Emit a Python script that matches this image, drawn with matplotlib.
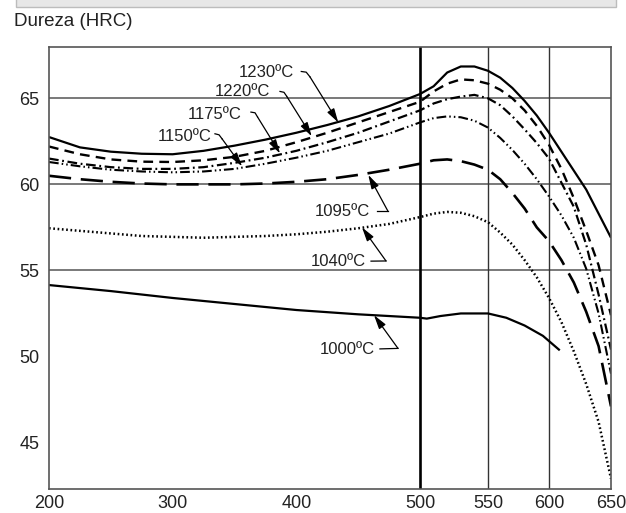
import numpy as np
import matplotlib
matplotlib.use("Agg")
import matplotlib.pyplot as plt
from matplotlib.patches import Rectangle

plt.rcParams['font.family'] = ['Liberation Sans', 'DejaVu Sans']
plt.rcParams['lines.scale_dashes'] = False

############### DATA ###############

# tempering temperature (ºC) shared by the upper curves
TEMP = [200, 225, 250, 275, 300, 325, 350, 375, 400, 425, 450, 475, 500,
        510, 520, 530, 540, 550, 560, 570, 580, 590, 600, 610, 620, 630, 640, 650]

HRC_1230 = [62.75, 62.15, 61.9, 61.78, 61.75, 61.95, 62.25, 62.6, 63.0, 63.45, 63.95, 64.55, 65.25,
            65.7, 66.5, 66.85, 66.85, 66.6, 66.2, 65.6, 64.85, 64.0, 63.0, 61.9, 60.8, 59.7, 58.3, 56.9]
HRC_1220 = [62.2, 61.75, 61.45, 61.32, 61.3, 61.4, 61.6, 61.95, 62.45, 63.0, 63.6, 64.2, 64.8,
            65.4, 65.85, 66.1, 66.05, 65.85, 65.5, 65.0, 64.3, 63.4, 62.3, 60.9, 59.2, 57.3, 55.3, 52.4]
HRC_1175 = [61.5, 61.2, 61.0, 60.9, 60.9, 61.0, 61.25, 61.55, 61.95, 62.45, 63.0, 63.65, 64.3,
            64.7, 64.95, 65.1, 65.2, 65.0, 64.6, 63.95, 63.2, 62.4, 61.5, 60.1, 58.7, 56.5, 53.6, 50.4]
HRC_1150 = [61.3, 61.05, 60.85, 60.75, 60.7, 60.75, 60.9, 61.2, 61.55, 61.95, 62.45, 62.95, 63.6,
            63.85, 63.95, 63.9, 63.7, 63.3, 62.7, 62.0, 61.2, 60.3, 59.3, 58.2, 56.9, 55.1, 52.5, 49.0]
HRC_1095 = [60.5, 60.3, 60.15, 60.05, 60.0, 60.0, 60.0, 60.05, 60.15, 60.3, 60.55, 60.85, 61.2,
            61.4, 61.45, 61.35, 61.15, 60.85, 60.3, 59.5, 58.6, 57.5, 56.7, 55.6, 54.3, 52.6, 50.6, 47.1]
HRC_1040 = [57.45, 57.3, 57.15, 57.0, 56.95, 56.9, 56.95, 57.0, 57.1, 57.25, 57.45, 57.7, 58.1,
            58.3, 58.4, 58.35, 58.15, 57.8, 57.2, 56.5, 55.6, 54.6, 53.4, 52.0, 50.3, 48.4, 46.2, 42.9]

TEMP_1000 = [200, 250, 300, 350, 400, 450, 500, 505, 515, 530, 550, 565, 580, 595, 608]
HRC_1000 = [54.15, 53.8, 53.4, 53.05, 52.7, 52.45, 52.25, 52.2, 52.35, 52.5, 52.5, 52.25, 51.8, 51.2, 50.4]

X_TICKS = [200, 300, 400, 500, 550, 600, 650]
Y_TICKS = [45, 50, 55, 60, 65]
H_GRID = [55, 60, 65]
V_GRID = [550, 600]

############### AXIS SCALE ###############
# the x axis of the original is not uniform: stretch between breaks
X_BREAKS = [200, 500, 550, 600, 650]
X_SPAN = [0, 371, 439, 500, 562]

def fwd(x):
    return np.interp(x, X_BREAKS, X_SPAN)

def inv(x):
    return np.interp(x, X_SPAN, X_BREAKS)

############### PLOT ###############

fig = plt.figure(figsize=(6.26, 5.13), dpi=100)
fig.add_artist(Rectangle((16 / 626, 1 - 7 / 513), 600 / 626, 0.03, transform=fig.transFigure,
                         facecolor='#e7e7e7', edgecolor='#bcbcbc', lw=1))
fig.text(14 / 626, 1 - 22 / 513, 'Dureza (HRC)', fontsize=13.5, color='#222222', va='center', ha='left')

ax = fig.add_axes([49 / 626, 1 - 489 / 513, 562 / 626, 442.3 / 513])
ax.set_xscale('function', functions=(fwd, inv))
ax.set_xlim(200, 650)
ax.set_ylim(42.3, 68.0)

for h in H_GRID:
    ax.axhline(h, color='#555555', lw=1.1, zorder=1)
for t in V_GRID:
    ax.axvline(t, color='#333333', lw=1.0, zorder=1)
ax.axvline(500, color='black', lw=1.9, zorder=1)

ax.plot(TEMP, HRC_1230, color='black', lw=1.6, solid_capstyle='butt')
ax.plot(TEMP, HRC_1220, color='black', lw=1.7, linestyle=(0, (7, 4.5)), dash_capstyle='butt')
ax.plot(TEMP, HRC_1175, color='black', lw=1.6, linestyle=(0, (7, 2.6, 1.3, 2.6)), dash_capstyle='butt')
ax.plot(TEMP, HRC_1150, color='black', lw=1.5, linestyle=(0, (7, 2.2, 1.1, 2.2, 1.1, 2.2)), dash_capstyle='butt')
ax.plot(TEMP, HRC_1095, color='black', lw=1.9, linestyle=(0, (16, 7)), dash_capstyle='butt')
ax.plot(TEMP, HRC_1040, color='black', lw=1.8, linestyle=(0, (1.2, 1.9)), dash_capstyle='butt')
ax.plot(TEMP_1000, HRC_1000, color='black', lw=1.6)

# labels with leader lines: (text, text pos, leader path, arrow tip)
LABELS = [
    ('1230ºC', (375.5, 66.48), [(404, 66.56), (408, 66.52), (411, 66.25)], (433.9, 63.6)),
    ('1220ºC', (356.1, 65.40), [(386.8, 65.40), (390, 65.35), (392.2, 65.12)], (412.4, 62.8)),
    ('1175ºC', (334.2, 64.04), [(363.3, 64.20), (366.6, 64.16), (368.6, 63.92)], (386.8, 61.8)),
    ('1150ºC', (309.6, 62.78), [(334.2, 62.94), (337.5, 62.88), (339.9, 62.65)], (356.1, 61.05)),
    ('1095ºC', (436.9, 58.42), [(465.2, 58.44), (474.1, 58.44)], (458.2, 60.55)),
    ('1040ºC', (433.7, 55.51), [(460.4, 55.54), (472.5, 55.55)], (453.1, 57.5)),
    ('1000ºC', (441.0, 50.38), [(467.6, 50.44), (482.2, 50.47)], (462.8, 52.4)),
]
for text, pos, path, tip in LABELS:
    ax.text(pos[0], pos[1], text, fontsize=12, color='#222222', ha='center', va='center')
    px, py = zip(*path)
    ax.plot(px, py, color='black', lw=0.9)
    ax.annotate('', xy=tip, xytext=path[-1],
                arrowprops=dict(arrowstyle='-|>,head_length=0.7,head_width=0.2', color='black',
                                lw=0.9, shrinkA=0, shrinkB=0, mutation_scale=12))

ax.set_xticks(X_TICKS)
ax.set_xticklabels([str(t) for t in X_TICKS])
ax.set_yticks(Y_TICKS)
ax.set_yticklabels([str(t) for t in Y_TICKS])
ax.xaxis.set_minor_locator(matplotlib.ticker.NullLocator())
ax.tick_params(axis='both', length=0, labelsize=13, colors='#222222')
ax.tick_params(axis='x', pad=4)
ax.tick_params(axis='y', pad=7)
for s in ax.spines.values():
    s.set_color('#555555')
    s.set_linewidth(1.2)

fig.savefig('out.png', dpi=100)
